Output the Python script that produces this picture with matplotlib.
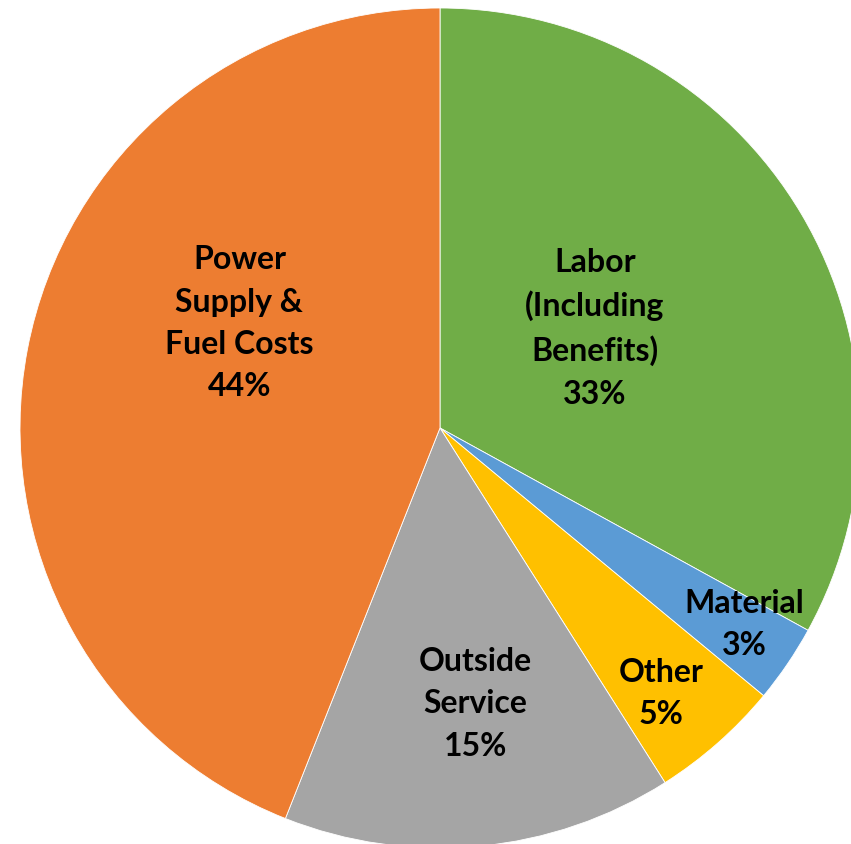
import numpy as np
import matplotlib.pyplot as plt

# cost breakdown, clockwise from 12 o'clock
labels = ['Labor\n(Including\nBenefits)', 'Material', 'Other', 'Outside\nService', 'Power\nSupply &\nFuel Costs']
shares = [33, 3, 5, 15, 44]
colors = ['#70AD47', '#5B9BD5', '#FFC000', '#A5A5A5', '#ED7D31']

# where each label sits: radius fraction and angle nudge (deg)
label_r = [0.44, 0.86, 0.82, 0.66, 0.54]
label_dth = [2.5, 1.5, -1.5, 2, -17]

W, H = 851, 845
cx, cy, R = 440, 429, 420

fig = plt.figure(figsize=(W / 100, H / 100), dpi=100)
ax = fig.add_axes([0, 0, 1, 1])
wedges, _ = ax.pie(shares, colors=colors, startangle=90, counterclock=False,
                   radius=1.0, wedgeprops=dict(edgecolor='white', linewidth=0.6))

ax.set_xlim(-cx / R, (W - cx) / R)
ax.set_ylim(-(H - cy) / R, cy / R)
ax.set_aspect('equal')
ax.axis('off')

for w, lab, v, r, dth in zip(wedges, labels, shares, label_r, label_dth):
    th = np.deg2rad((w.theta1 + w.theta2) / 2 + dth)
    ax.text(r * np.cos(th), r * np.sin(th), f'{lab}\n{v}%', ha='center', va='center',
            fontsize=23, fontweight='bold', family=['Lato', 'DejaVu Sans'],
            linespacing=1.55, color='black')

fig.savefig('out.png', dpi=100)
